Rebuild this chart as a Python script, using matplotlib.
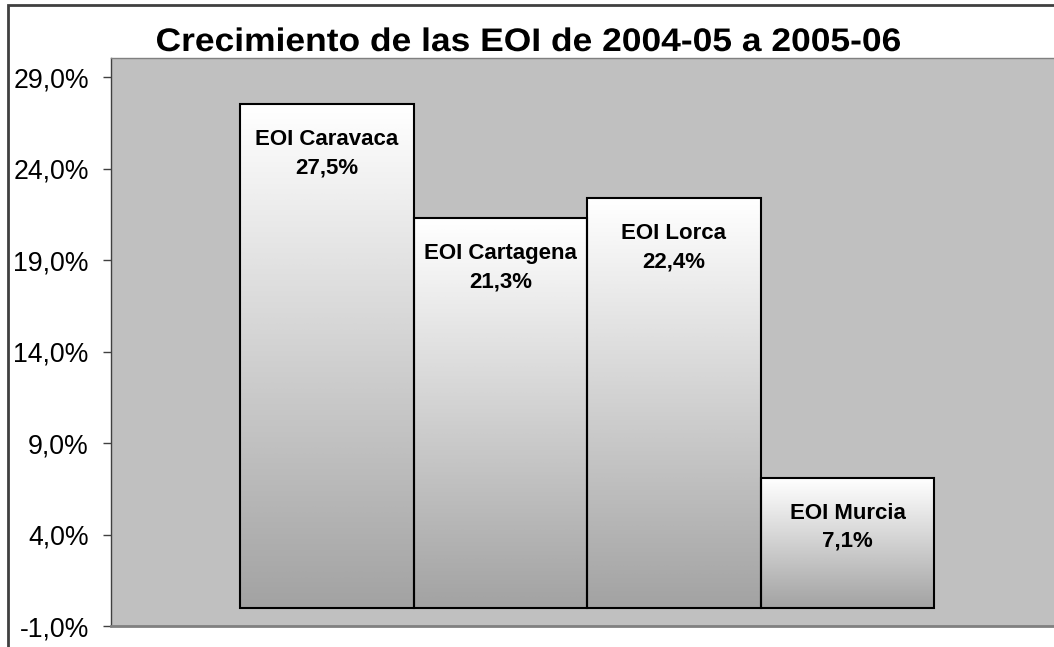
import matplotlib
matplotlib.use("Agg")
import matplotlib.pyplot as plt
from matplotlib import font_manager as fm
from matplotlib.textpath import TextPath
from matplotlib.patches import Rectangle, PathPatch
from matplotlib.transforms import Affine2D
from matplotlib.ticker import FuncFormatter
import numpy as np

centros = ["EOI Caravaca", "EOI Cartagena", "EOI Lorca", "EOI Murcia"]
crecimiento = [27.5, 21.3, 22.4, 7.1]
ticks_y = [-1, 4, 9, 14, 19, 24, 29]
titulo = "Crecimiento de las EOI de 2004-05 a 2005-06"

plt.rcParams['font.family'] = ['Liberation Sans', 'DejaVu Sans']

bold = lambda size: fm.FontProperties(family='Liberation Sans', weight='bold', size=size)

W, H = 1054, 647
fig = plt.figure(figsize=(W / 100, H / 100), dpi=100)
fig.patch.set_facecolor('white')

# outer chart border (only top and left visible in the image)
fig.add_artist(Rectangle((8 / W, -0.1), 1.2, 1.1 - 5 / H, transform=fig.transFigure,
                         fill=False, edgecolor='#404040', lw=2))

ax = fig.add_axes([111 / W, 21 / H, (W - 111) / W + 0.01, (626 - 58) / H])
ax.set_facecolor('#c0c0c0')
ax.set_xlim(-1.243, 4.25)
ax.set_ylim(-1, 30.04)

grad = np.linspace(1, 0, 256).reshape(-1, 1)
for i, (nombre, v) in enumerate(zip(centros, crecimiento)):
    rect = Rectangle((i - 0.5, 0), 1, v, facecolor='none', edgecolor='black', lw=1.5, zorder=3)
    ax.add_patch(rect)
    im = ax.imshow(grad, cmap='gray', vmin=-1.75, vmax=1, aspect='auto',
                   extent=(i - 0.5, i + 0.5, 0, v), zorder=2, interpolation='bicubic')
    im.set_clip_path(rect)
    ax.annotate(f"{nombre}\n{v:.1f}%".replace('.', ','), (i, v), xytext=(0, -18),
                textcoords='offset points', ha='center', va='top',
                fontproperties=bold(16), linespacing=1.45, zorder=4)

ax.set_xticks([])
ax.set_yticks(ticks_y)
ax.yaxis.set_major_formatter(FuncFormatter(lambda y, p: f"{y:.1f}%".replace('.', ',')))
ax.tick_params(axis='y', direction='out', length=6, width=1, color='#404040',
               labelsize=19.2, pad=10)
ax.spines['right'].set_visible(False)
ax.spines['left'].set_color('#404040')
ax.spines['left'].set_linewidth(1)
ax.spines['bottom'].set_color('#808080')
ax.spines['bottom'].set_linewidth(2)
ax.spines['top'].set_color('#808080')
ax.spines['top'].set_linewidth(1)

# title: slightly widened bold text, drawn as a path
tp = TextPath((0, 0), titulo, prop=bold(23.5))
ext = tp.get_extents()
sx = 743 / (ext.width * 100 / 72)
cx, base = 528.5 / 100, (H - 51) / 100
tr = (Affine2D().translate(-(ext.x0 + ext.width / 2), 0).scale(sx / 72, 1 / 72)
      .translate(cx, base) + fig.dpi_scale_trans)
fig.add_artist(PathPatch(tp, transform=tr, facecolor='black', edgecolor='none'))

fig.savefig("out.png", dpi=100)
